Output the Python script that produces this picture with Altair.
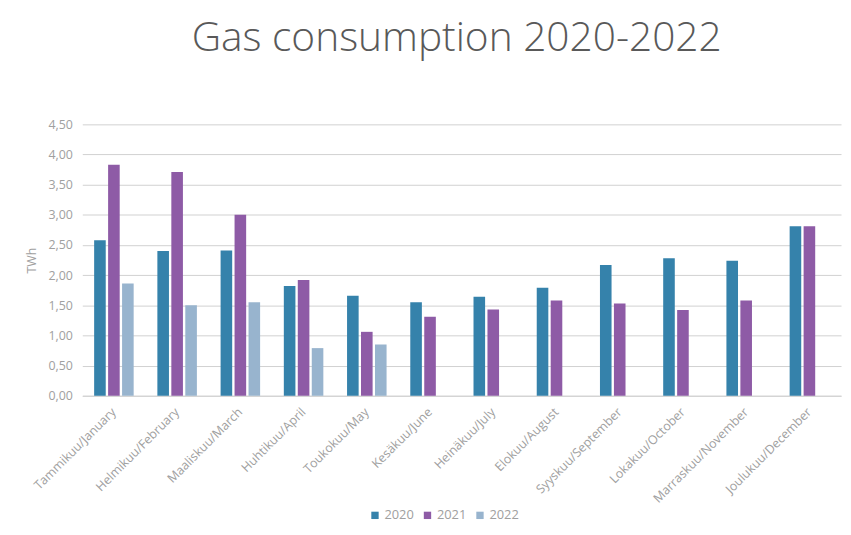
import altair as alt
import pandas as pd

months = ["Tammikuu/January", "Helmikuu/February", "Maaliskuu/March", "Huhtikuu/April",
          "Toukokuu/May", "Kesäkuu/June", "Heinäkuu/July", "Elokuu/August",
          "Syyskuu/September", "Lokakuu/October", "Marraskuu/November", "Joulukuu/December"]
years = ["2020", "2021", "2022"]
v2020 = [2.58, 2.40, 2.41, 1.82, 1.66, 1.55, 1.64, 1.79, 2.17, 2.28, 2.24, 2.81]
v2021 = [3.83, 3.71, 3.00, 1.92, 1.06, 1.31, 1.43, 1.58, 1.53, 1.42, 1.58, 2.81]
v2022 = [1.86, 1.50, 1.55, 0.79, 0.85]
colors = ["#3582AB", "#8E5BA6", "#98B4CE"]

rows = []
for yr, vals in zip(years, [v2020, v2021, v2022]):
    for m, v in zip(months, vals):
        rows.append({"month": m, "year": yr, "value": v})
df = pd.DataFrame(rows)

FONT = "Open Sans"
GRAY = "#a0a0a0"

chart = alt.Chart(df).mark_bar().encode(
    x=alt.X("month:N", sort=months, title=None,
            scale=alt.Scale(paddingInner=0.375, paddingOuter=0.1875),
            axis=alt.Axis(labelAngle=-45, labelAlign="right", labelBaseline="middle",
                          labelFont=FONT, labelFontSize=12.5, labelColor=GRAY,
                          labelPadding=14, ticks=False, domainColor="#d0d0d0",
                          domainWidth=1, grid=False)),
    xOffset=alt.XOffset("year:N", sort=years, scale=alt.Scale(paddingInner=0.17)),
    y=alt.Y("value:Q", title="TWh",
            scale=alt.Scale(domain=[0, 4.5], nice=False),
            axis=alt.Axis(values=[0, 0.5, 1, 1.5, 2, 2.5, 3, 3.5, 4, 4.5],
                          labelExpr="replace(format(datum.value, '.2f'), '.', ',')",
                          labelFont=FONT, labelFontSize=12.5, labelColor=GRAY,
                          labelPadding=10, ticks=False, domain=False,
                          gridColor="#d0d0d0", gridWidth=1,
                          titleFont=FONT, titleFontSize=12.5, titleColor=GRAY,
                          titleFontWeight="normal", titlePadding=10)),
    color=alt.Color("year:N", sort=years,
                    scale=alt.Scale(domain=years, range=colors),
                    legend=alt.Legend(title=None, orient="none", direction="horizontal",
                                      legendX=289, legendY=388, padding=0,
                                      symbolType="square", symbolSize=55,
                                      symbolStrokeWidth=0,
                                      labelFont=FONT, labelFontSize=13, labelColor=GRAY,
                                      columnPadding=7, labelOffset=3)),
).properties(
    width=766, height=274,
    autosize=alt.AutoSizeParams(type="none"),
    padding={"left": 75, "top": 115, "right": 2, "bottom": 128},
    title=alt.Title("Gas consumption 2020-2022", font=FONT, fontSize=41,
                    fontWeight=300, color="#595959", anchor="middle", dx=-5,
                    offset=59),
).configure_view(stroke=None)

chart.save("out.html", embed_options={"renderer": "svg", "actions": False})
